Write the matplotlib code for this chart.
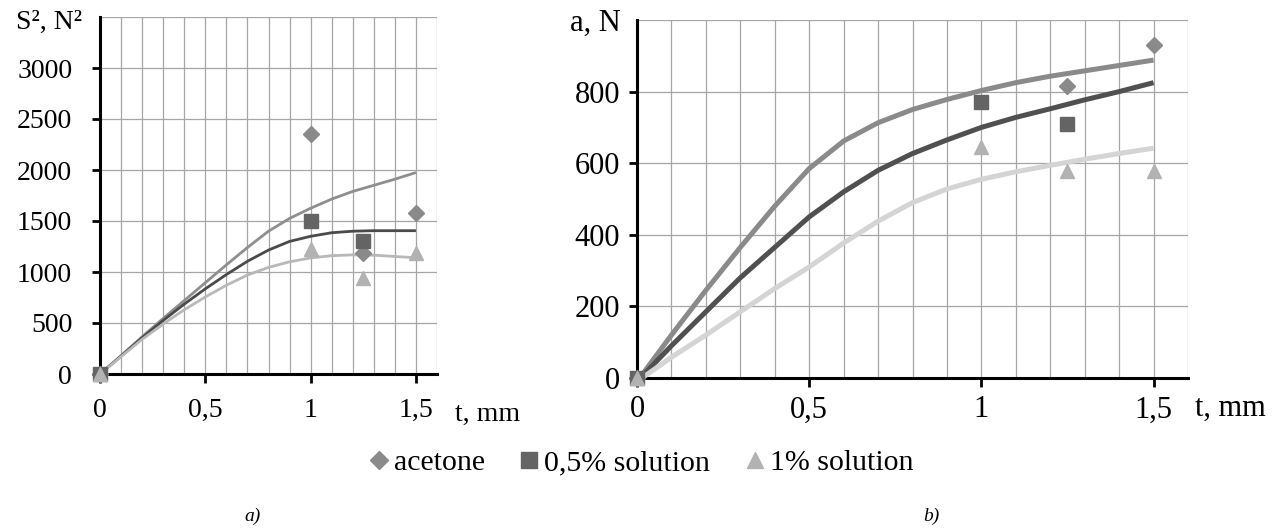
import matplotlib.pyplot as plt
from matplotlib.ticker import MultipleLocator
from matplotlib.lines import Line2D

plt.rcParams['font.family'] = ['Liberation Serif', 'DejaVu Serif']

# --- data ---------------------------------------------------------
t_pts = [0, 1.0, 1.25, 1.5]
t_fit = [0, 0.1, 0.2, 0.3, 0.4, 0.5, 0.6, 0.7, 0.8, 0.9, 1.0, 1.1, 1.2, 1.3, 1.4, 1.5]
t_ticks = [0, 0.5, 1, 1.5]
t_ticklabels = ['0', '0,5', '1', '1,5']

# a) S^2, N^2
s2_acetone = [0, 2350, 1190, 1575]
s2_half = [0, 1500, 1300, None]
s2_one = [0, 1225, 940, 1185]
s2_fit_acetone = [0, 180, 365, 545, 720, 895, 1070, 1240, 1400, 1525, 1625, 1715, 1790, 1850, 1910, 1975]
s2_fit_half = [0, 175, 355, 525, 685, 835, 975, 1105, 1215, 1300, 1350, 1385, 1400, 1405, 1405, 1405]
s2_fit_one = [0, 170, 340, 490, 630, 755, 870, 970, 1045, 1100, 1138, 1160, 1168, 1165, 1152, 1140]
s2_ticks = [0, 500, 1000, 1500, 2000, 2500, 3000]

# b) a, N
a_acetone = [0, None, 815, 930]
a_half = [0, 770, 710, None]
a_one = [0, 645, 578, 578]
a_fit_acetone = [-10, 120, 245, 365, 480, 585, 662, 713, 750, 778, 803, 825, 843, 858, 873, 888]
a_fit_half = [-10, 90, 185, 280, 365, 450, 520, 580, 627, 665, 700, 728, 752, 777, 800, 825]
a_fit_one = [-10, 58, 120, 185, 250, 310, 377, 438, 490, 528, 555, 576, 594, 611, 627, 642]
a_ticks = [0, 200, 400, 600, 800]

series_names = ['acetone', '0,5% solution', '1% solution']
markers = ['D', 's', '^']
msizes = [8, 9.5, 10]
col_pts = ['#8a8a8a', '#646464', '#b2b2b2']
col_fit_a = ['#8e8e8e', '#4a4a4a', '#b8b8b8']
col_fit_b = ['#8a8a8a', '#505050', '#d4d4d4']

W, H = 1275, 531
fig = plt.figure(figsize=(W / 100, H / 100), dpi=100)
ax1 = fig.add_axes([100 / W, (H - 374) / H, 337 / W, 357 / H])
ax2 = fig.add_axes([637 / W, (H - 378) / H, 551 / W, 358 / H])


def style(ax, ymax, yticks, fs, xpad, ypad):
    ax.set_xlim(0, 1.6)
    ax.set_ylim(0, ymax)
    ax.set_xticks(t_ticks)
    ax.set_xticklabels(t_ticklabels)
    ax.xaxis.set_minor_locator(MultipleLocator(0.1))
    ax.set_yticks(yticks)
    ax.grid(True, which='both', axis='x', color='#a6a6a6', lw=0.9)
    ax.grid(True, which='major', axis='y', color='#a6a6a6', lw=0.9)
    # top gridline at the axis limit
    ax.axhline(ymax, color='#a6a6a6', lw=0.9, zorder=0.5)
    ax.set_axisbelow(True)
    for s in ('top', 'right'):
        ax.spines[s].set_visible(False)
    for s in ('left', 'bottom'):
        ax.spines[s].set_linewidth(2.2)
    ax.tick_params(axis='x', which='major', length=6.5, width=2, pad=xpad, labelsize=fs)
    ax.tick_params(axis='x', which='minor', length=0)
    ax.tick_params(axis='y', length=6, width=2, pad=ypad, labelsize=fs)


def draw(ax, fits, pts, fcols, lw):
    for f, c in zip(fits, fcols):
        ax.plot(t_fit, f, color=c, lw=lw, zorder=3, clip_on=False,
                solid_joinstyle='round', solid_capstyle='butt')
    for p, m, ms, c in zip(pts, markers, msizes, col_pts):
        xs = [x for x, y in zip(t_pts, p) if y is not None]
        ys = [y for y in p if y is not None]
        ax.plot(xs, ys, ls='none', marker=m, ms=ms, color=c, zorder=4, clip_on=False)


style(ax1, 3500, s2_ticks, 20, 11, 14)
draw(ax1, [s2_fit_acetone, s2_fit_half, s2_fit_one], [s2_acetone, s2_half, s2_one], col_fit_a, 2.0)

style(ax2, 1000, a_ticks, 22, 6, 6)
draw(ax2, [a_fit_acetone, a_fit_half, a_fit_one], [a_acetone, a_half, a_one], col_fit_b, 3.6)

# axis titles
fig.text(82 / W, 1 - 22 / H, 'S², N²', ha='right', va='center', fontsize=20)
fig.text(455 / W, 1 - 414 / H, 't, mm', ha='left', va='center', fontsize=20)
fig.text(621 / W, 1 - 23 / H, 'a, N', ha='right', va='center', fontsize=22)
fig.text(1195 / W, 1 - 408 / H, 't, mm', ha='left', va='center', fontsize=22)

handles = [Line2D([], [], ls='none', marker=m, ms=ms, color=c)
           for m, ms, c in zip(markers, [9, 11, 11], col_pts)]
fig.legend(handles, series_names, loc='center', bbox_to_anchor=(640 / W, 1 - 463 / H),
           ncol=3, frameon=False, fontsize=21.5, handletextpad=0.1, columnspacing=1.1,
           handlelength=0.8, borderpad=0, borderaxespad=0)

fig.text(253 / W, 1 - 516 / H, 'a)', ha='center', va='center', fontsize=14, style='italic')
fig.text(931 / W, 1 - 516 / H, 'b)', ha='center', va='center', fontsize=14, style='italic')

fig.savefig('out.png', dpi=100)
